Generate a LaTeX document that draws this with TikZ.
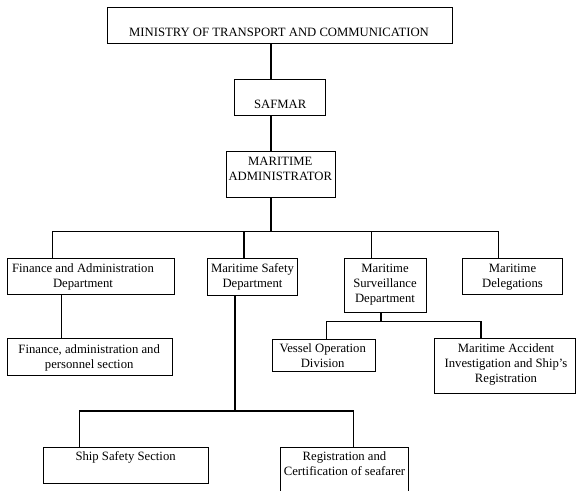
\documentclass[tikz,border=0pt]{standalone}
\usepackage{fontspec}
\setmainfont{Liberation Serif}
\begin{document}
\begin{tikzpicture}[x=1pt,y=-1pt,
  box/.style={draw=black,line width=1.1pt,fill=white,rectangle,inner sep=0pt,anchor=north west},
  lbl/.style={inner sep=0pt,align=center,anchor=base,font=\fontsize{12.7}{15}\selectfont},
  conn/.style={draw=black,line width=1.1pt}]
\useasboundingbox (0,0) rectangle (578,490);
\clip (0,0) rectangle (578,490);
\newcommand{\mybox}[5]{\node[box,minimum width={#4-#2},minimum height={#5-#3}] (#1) at (#2,#3) {};}
% boxes
\mybox{bMin}{107.3}{7.3}{451.7}{43.3}
\mybox{bSaf}{234}{79}{325.3}{115}
\mybox{bMA}{226}{151}{335}{196.7}
\mybox{bFin}{6.7}{257.7}{174.3}{294}
\mybox{bSafety}{206.7}{258.3}{297.3}{295}
\mybox{bSurv}{344}{258.3}{425.7}{312.3}
\mybox{bDel}{462}{257.7}{562}{294}
\mybox{bFinSec}{6.7}{338.3}{171.7}{375}
\mybox{bVes}{271.7}{339.3}{375}{370.7}
\mybox{bAcc}{434.3}{338.3}{575.3}{393.3}
\mybox{bShip}{43.3}{446.7}{208.3}{483.3}
\mybox{bReg}{280}{446.7}{407.7}{500}
% texts (anchor base = baseline of the last line)
\node[lbl] (tMin) at (279,36.7) {MINISTRY OF TRANSPORT AND COMMUNICATION};
\node[lbl] (tSaf) at (280.2,108.3) {SAFMAR};
\node[lbl] (tMA) at (280.3,180.5) {MARITIME\\ADMINISTRATOR};
\node[lbl] (tFin) at (83,287) {Finance and Administration\\Department};
\node[lbl] (tSafety) at (252.5,287.5) {Maritime Safety\\Department};
\node[lbl] (tSurv) at (385,302.5) {Maritime\\Surveillance\\Department};
\node[lbl] (tDel) at (512.5,287) {Maritime\\Delegations};
\node[lbl] (tFinSec) at (89.2,368.2) {Finance, administration and\\personnel section};
\node[lbl] (tVes) at (322.7,367.7) {Vessel Operation\\Division};
\node[lbl] (tAcc) at (506,382.7) {Maritime Accident\\Investigation and Ship's\\Registration};
\node[lbl] (tShip) at (125.6,460) {Ship Safety Section};
\node[lbl] (tReg) at (344.5,475) {Registration and\\Certification of seafarer};
% junction coordinates
\coordinate (x0) at (271,0);
\coordinate (j0) at (271,231.7);
\coordinate (d1) at (52.3,231.7);
\coordinate (d2) at (244,231.7);
\coordinate (d3) at (371.7,231.7);
\coordinate (d4) at (498.7,231.7);
\coordinate (x5) at (61.7,0);
\coordinate (s0) at (381,321.7);
\coordinate (s1) at (326.7,321.7);
\coordinate (s2) at (481,321.7);
\coordinate (k0) at (235,411);
\coordinate (k1) at (79.3,411);
\coordinate (k2) at (353.3,411);
% connectors
\draw[conn] (bMin.south -| x0) -- (bSaf.north -| x0);
\draw[conn] (bSaf.south -| x0) -- (bMA.north -| x0);
\draw[conn] (bMA.south -| j0) -- (j0);
\draw[conn] (bFin.north -| d1) -- (d1) -- (d4) -- (bDel.north -| d4);
\draw[conn] (d2) -- (bSafety.north -| d2);
\draw[conn] (d3) -- (bSurv.north -| d3);
\draw[conn] (bFin.south -| x5) -- (bFinSec.north -| x5);
\draw[conn] (bSurv.south -| s0) -- (s0);
\draw[conn] (bVes.north -| s1) -- (s1) -- (s2) -- (bAcc.north -| s2);
\draw[conn] (bSafety.south -| k0) -- (k0);
\draw[conn] (bShip.north -| k1) -- (k1) -- (k2) -- (bReg.north -| k2);
\end{tikzpicture}
\end{document}
